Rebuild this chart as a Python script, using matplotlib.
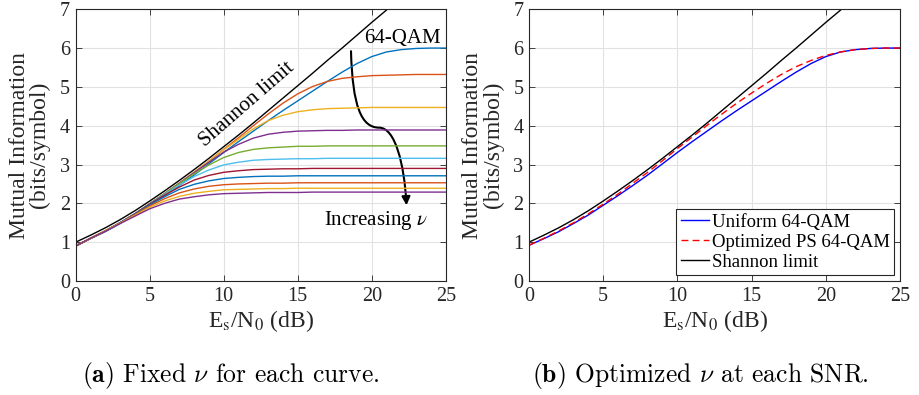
import matplotlib.pyplot as plt
from matplotlib.path import Path
from matplotlib.patches import FancyArrowPatch

plt.rcParams['font.family'] = 'Liberation Serif'
plt.rcParams['mathtext.fontset'] = 'stix'

# ---------------- data ----------------
snr = list(range(26))

shannon = [1.00, 1.18, 1.37, 1.58, 1.81, 2.06, 2.32, 2.59, 2.87, 3.16, 3.46,
           3.76, 4.07, 4.39, 4.71, 5.03, 5.35, 5.68, 6.00, 6.33, 6.66, 6.98, 7.31]

uniform64 = [0.92, 1.09, 1.27, 1.48, 1.70, 1.95, 2.20, 2.46, 2.73, 3.02, 3.31,
             3.59, 3.86, 4.13, 4.39, 4.64, 4.89, 5.14, 5.38, 5.60, 5.78,
             5.90, 5.96, 5.99, 6.00, 6.00]

ps_opt = [0.92, 1.10, 1.29, 1.50, 1.73, 1.98, 2.24, 2.52, 2.80, 3.10, 3.41,
          3.71, 4.01, 4.30, 4.58, 4.84, 5.09, 5.32, 5.52, 5.68, 5.81,
          5.90, 5.96, 5.99, 6.00, 6.00]

# fixed nu curves, increasing nu
fixed_nu = [
    [0.90, 1.10, 1.29, 1.50, 1.73, 1.99, 2.25, 2.52, 2.80, 3.09, 3.39, 3.69, 4.00,
     4.30, 4.58, 4.82, 5.01, 5.14, 5.22, 5.26, 5.29, 5.30, 5.31, 5.32, 5.32, 5.32],
    [0.90, 1.10, 1.29, 1.50, 1.73, 1.99, 2.25, 2.52, 2.80, 3.09, 3.38, 3.65, 3.92,
     4.13, 4.27, 4.36, 4.41, 4.44, 4.45, 4.46, 4.47, 4.47, 4.47, 4.47, 4.47, 4.47],
    [0.90, 1.10, 1.29, 1.50, 1.73, 1.99, 2.25, 2.52, 2.79, 3.06, 3.32, 3.52, 3.68,
     3.78, 3.83, 3.86, 3.87, 3.88, 3.88, 3.89, 3.89, 3.89, 3.89, 3.89, 3.89, 3.89],
    [0.90, 1.10, 1.29, 1.50, 1.73, 1.99, 2.25, 2.51, 2.76, 2.99, 3.18, 3.31, 3.39,
     3.43, 3.45, 3.47, 3.47, 3.48, 3.48, 3.48, 3.48, 3.48, 3.48, 3.48, 3.48, 3.48],
    [0.90, 1.10, 1.29, 1.50, 1.73, 1.98, 2.23, 2.47, 2.69, 2.86, 2.99, 3.06, 3.11,
     3.13, 3.14, 3.15, 3.15, 3.16, 3.16, 3.16, 3.16, 3.16, 3.16, 3.16, 3.16, 3.16],
    [0.90, 1.10, 1.29, 1.50, 1.73, 1.98, 2.21, 2.42, 2.60, 2.72, 2.80, 2.84, 2.87,
     2.88, 2.89, 2.89, 2.90, 2.90, 2.90, 2.90, 2.90, 2.90, 2.90, 2.90, 2.90, 2.90],
    [0.90, 1.10, 1.29, 1.50, 1.72, 1.96, 2.17, 2.36, 2.49, 2.58, 2.64, 2.67, 2.69,
     2.70, 2.70, 2.71, 2.71, 2.71, 2.71, 2.71, 2.71, 2.71, 2.71, 2.71, 2.71, 2.71],
    [0.90, 1.10, 1.29, 1.49, 1.71, 1.93, 2.12, 2.27, 2.37, 2.44, 2.48, 2.50, 2.51,
     2.52, 2.52, 2.53, 2.53, 2.53, 2.53, 2.53, 2.53, 2.53, 2.53, 2.53, 2.53, 2.53],
    [0.90, 1.10, 1.29, 1.49, 1.69, 1.90, 2.06, 2.18, 2.26, 2.31, 2.35, 2.36, 2.37,
     2.38, 2.38, 2.39, 2.39, 2.39, 2.39, 2.39, 2.39, 2.39, 2.39, 2.39, 2.39, 2.39],
    [0.90, 1.10, 1.28, 1.48, 1.67, 1.86, 2.00, 2.11, 2.17, 2.22, 2.25, 2.26, 2.27,
     2.28, 2.28, 2.28, 2.29, 2.29, 2.29, 2.29, 2.29, 2.29, 2.29, 2.29, 2.29, 2.29],
]

matlab_colors = ['#0072BD', '#D95319', '#EDB120', '#7E2F8E',
                 '#77AC30', '#4DBEEE', '#A2142F']

# ---------------- figure ----------------
fig = plt.figure(figsize=(9.19, 3.95), dpi=100)
ax1 = fig.add_axes([0.0824, 0.2886, 0.4026, 0.688])
ax2 = fig.add_axes([0.5756, 0.2886, 0.4037, 0.688])


def style(ax):
    ax.set_xlim(0, 25)
    ax.set_ylim(0, 7)
    ax.set_xticks(range(0, 26, 5))
    ax.set_yticks(range(0, 8))
    ax.grid(True, color='#e2e2e2', lw=0.8)
    ax.set_axisbelow(True)
    ax.tick_params(direction='in', top=True, right=True, length=4,
                   width=0.6, labelsize=14.5, pad=4, colors='#262626')
    for s in ax.spines.values():
        s.set_color('#262626')
        s.set_linewidth(0.8)
    ax.set_xlabel(r'E$_\mathrm{s}$/N$_0$ (dB)', fontsize=17, color='#262626',
                  labelpad=2)
    ax.set_ylabel('Mutual Information\n(bits/symbol)', fontsize=17,
                  color='#262626', linespacing=0.95, labelpad=7)


# (a) fixed nu
style(ax1)
ax1.plot(snr, uniform64, color=matlab_colors[0], lw=1.0)
for i, curve in enumerate(fixed_nu):
    ax1.plot(snr, curve, color=matlab_colors[(i + 1) % 7], lw=1.0)
ax1.plot(snr[:len(shannon)], shannon, color='k', lw=1.0)

ax1.text(11.6, 4.55, 'Shannon limit', rotation=41, fontsize=15.2,
         ha='center', va='center')
ax1.text(22.1, 6.25, '64-QAM', fontsize=15, ha='center', va='center')
ax1.text(20.3, 1.55, r'Increasing $\nu$', fontsize=15, ha='center', va='center')

arrow_path = Path([(18.6, 5.92), (18.7, 4.5), (19.3, 3.95), (20.5, 3.95),
                   (21.6, 3.95), (22.2, 3.0), (22.35, 1.95)],
                  [Path.MOVETO, Path.CURVE4, Path.CURVE4, Path.CURVE4,
                   Path.CURVE4, Path.CURVE4, Path.CURVE4])
ax1.add_patch(FancyArrowPatch(path=arrow_path, arrowstyle='-|>,head_length=5,head_width=2.5',
                              color='k', lw=1.5, transform=ax1.transData))

# (b) optimized nu
style(ax2)
ax2.plot(snr, uniform64, color='#0000FF', lw=1.0, label='Uniform 64-QAM')
ax2.plot(snr, ps_opt, color='#FF0000', lw=1.0, ls=(0, (5, 3)),
         label='Optimized PS 64-QAM')
ax2.plot(snr[:len(shannon)], shannon, color='k', lw=1.0, label='Shannon limit')
leg = ax2.legend(loc='lower right', fontsize=13.5, fancybox=False,
                 edgecolor='#262626', framealpha=1, borderpad=0.25,
                 labelspacing=0.15, handlelength=1.5, handletextpad=0.15,
                 borderaxespad=0.3)
leg.get_frame().set_linewidth(0.8)

# captions
fig.text(0.251, 0.05, r'$\mathbf{(a)}$ Fixed $\nu$ for each curve.',
         fontsize=18.4, family='cmr10', math_fontfamily='cm',
         ha='center', va='center')
fig.text(0.762, 0.05, r'$\mathbf{(b)}$ Optimized $\nu$ at each SNR.',
         fontsize=18.4, family='cmr10', math_fontfamily='cm',
         ha='center', va='center')

fig.savefig('out.png', dpi=100)
